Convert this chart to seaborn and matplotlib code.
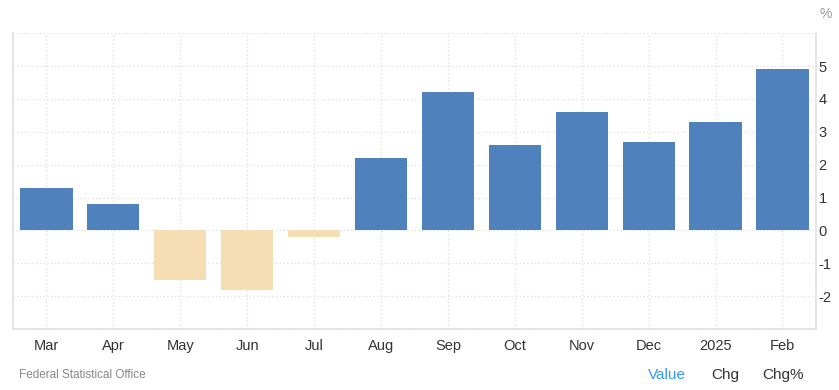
import matplotlib.pyplot as plt
import seaborn as sns
import pandas as pd

# Monthly values (%)
months = ['Mar', 'Apr', 'May', 'Jun', 'Jul', 'Aug', 'Sep', 'Oct', 'Nov', 'Dec', '2025', 'Feb']
values = [1.3, 0.8, -1.5, -1.8, -0.2, 2.2, 4.2, 2.6, 3.6, 2.7, 3.3, 4.9]
y_ticks = [-2, -1, 0, 1, 2, 3, 4, 5]

data = pd.DataFrame({'month': months, 'value': values})
data['sign'] = ['pos' if v >= 0 else 'neg' for v in values]

sns.set_style("white")
plt.rcParams['font.family'] = ['Liberation Sans', 'DejaVu Sans']
plt.rcParams['axes.unicode_minus'] = False

fig = plt.figure(figsize=(8.39, 3.9), dpi=100)
ax = fig.add_axes([0.0155, 0.156, 0.957, 0.759])

sns.barplot(data=data, x='month', y='value', hue='sign', order=months,
            palette={'pos': '#4f81bd', 'neg': '#f5deb3'}, dodge=False,
            width=0.78, legend=False, saturation=1, linewidth=0,
            ax=ax, zorder=3)

ax.set_xlim(-0.5, len(months) - 0.5)
ax.set_ylim(-3, 6)
ax.set_yticks(y_ticks)
ax.yaxis.tick_right()
ax.set_xlabel('')
ax.set_ylabel('')

# dotted grid
ax.set_axisbelow(True)
for y in range(-3, 7):
    ax.axhline(y, color='#dddddd', lw=0.9, ls=(0, (1, 2)), zorder=0)
for i in range(len(months)):
    ax.axvline(i, color='#dddddd', lw=0.9, ls=(0, (1, 2)), zorder=0)

ax.spines['top'].set_visible(False)
for side in ['left', 'right', 'bottom']:
    ax.spines[side].set_color('#e0e0e0')
    ax.spines[side].set_linewidth(1.2)

ax.tick_params(axis='both', length=0, labelsize=10.5, colors='#333333')
ax.tick_params(axis='x', pad=7)
ax.tick_params(axis='y', pad=2)

fig.text(0.977, 0.965, '%', ha='left', va='center', fontsize=10, color='#999999')
fig.text(0.023, 0.038, 'Federal Statistical Office', ha='left', va='center',
         fontsize=8.5, color='#888888')
fig.text(0.795, 0.038, 'Value', ha='center', va='center', fontsize=11, color='#3399ff')
fig.text(0.865, 0.038, 'Chg', ha='center', va='center', fontsize=11, color='#333333')
fig.text(0.933, 0.038, 'Chg%', ha='center', va='center', fontsize=11, color='#333333')

fig.savefig('out.png', dpi=100)
